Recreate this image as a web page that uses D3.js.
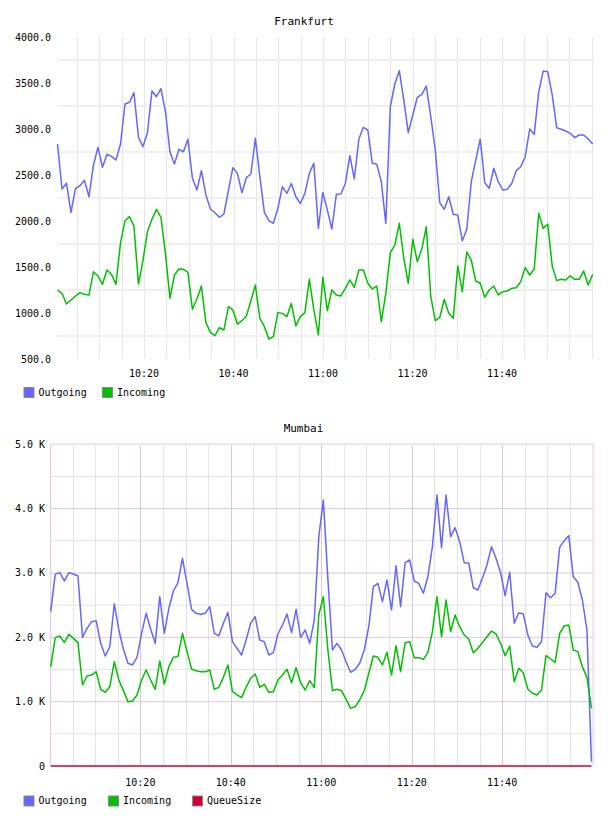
<!DOCTYPE html>
<html><head><meta charset="utf-8">
<script src="https://cdn.jsdelivr.net/npm/d3@7/dist/d3.min.js"></script>
<style>body{margin:0;background:#fff}svg{display:block}text{font-family:"DejaVu Sans Mono",monospace;fill:#000}</style>
</head><body>
<svg id="chart" width="608" height="816"></svg>
<script>
// ---------- data ----------
const timeLabels = ["10:20", "10:40", "11:00", "11:20", "11:40"];
const frankfurtStart = "10:00:40";
const mumbaiStart = "10:00:10";
const stepSeconds = 60.3;

const frankfurtTicks = [500, 1000, 1500, 2000, 2500, 3000, 3500, 4000];
const mumbaiTicks = [0, 1000, 2000, 3000, 4000, 5000];

const frankfurtOutgoing = [2837,2348,2410,2094,2355,2384,2442,2264,2609,2801,
2584,2725,2703,2663,2834,3272,3290,3395,2910,2808,
2960,3413,3351,3438,3188,2753,2620,2779,2753,2888,
2464,2337,2547,2283,2130,2090,2040,2076,2330,2580,
2518,2308,2471,2511,2899,2480,2094,2003,1975,2138,
2373,2301,2408,2264,
2190,2300,2518,2627,1920,2311,2120,1913,2290,2293,
2408,2710,2457,2888,3018,2989,2627,2616,2427,1975,
3242,3489,3634,3315,2960,3152,3345,3377,3467,3134,
2772,2199,2127,2264,2073,2065,1783,1910,2427,2663,
2891,2416,2355,2573,2427,2337,2344,2408,2547,2590,
2699,3000,2942,3403,3630,3623,3370,3014,2997,2978,
2953,2906,2935,2935,2891,2837];

const frankfurtIncoming = [1250,1214,1098,1141,1185,1221,1203,1196,1449,1402,
1312,1467,1420,1312,1757,2003,2047,1946,1315,1569,
1884,2018,2127,2040,1649,1160,1413,1478,1475,1442,
1040,1152,1293,895,790,753,840,815,1069,1033,
880,916,967,1134,1304,942,851,717,743,1004,
996,960,1105,859,
960,1004,1366,1033,761,1388,1025,1250,1196,1185,
1268,1359,1279,1467,1467,1323,1261,1293,905,1214,
1655,1739,1975,1594,1323,1801,1558,1692,1938,1177,
916,953,1149,996,942,1511,1232,1663,1576,1348,
1323,1170,1250,1293,1196,1232,1239,1268,1275,1341,
1493,1413,1478,2083,1920,1967,1511,1352,1366,1359,
1405,1366,1366,1457,1304,1420];

const mumbaiOutgoing = [2400,2979,3010,2875,3005,2984,2953,2000,2140,2243,
2258,1907,1710,1854,2520,2114,1814,1596,1570,1689,
2062,2373,2125,1907,2632,2062,2451,2720,2849,3228,
2839,2435,2373,2358,2373,2476,2062,2025,2218,2389,
1932,1829,1725,1958,2218,2321,1958,1932,1725,1761,
2052,2192,2363,2072,2436,
2000,2114,1907,2269,3564,4134,2900,1803,1907,1803,
1621,1456,1503,1596,1803,2165,2787,2839,2554,2891,
2425,3113,2476,3160,3202,2875,2839,2684,2942,3409,
4212,3393,4212,3564,3704,3486,3160,3150,2771,2735,
2917,3124,3409,3228,3005,2647,3010,2218,2383,2363,
2036,1865,1845,1932,2694,2616,2684,3399,3502,3580,
2942,2855,2580,2114,67];

const mumbaiIncoming = [1544,1995,2020,1922,2046,1984,1917,1259,1399,1414,
1466,1192,1145,1233,1621,1337,1171,999,1010,1104,
1337,1492,1337,1192,1632,1274,1544,1689,1700,2062,
1777,1508,1481,1466,1466,1492,1192,1223,1378,1570,
1155,1104,1062,1223,1363,1430,1223,1270,1145,1155,
1337,1414,1503,1295,1528,
1295,1181,1326,1217,2350,2630,1803,1171,1192,1171,
1036,896,922,1026,1171,1441,1710,1689,1570,1767,
1414,1870,1466,1917,1932,1684,1684,1658,1761,2088,
2632,2010,2580,2088,2347,2165,2036,1974,1761,1829,
1917,2010,2098,2052,1907,1715,1865,1311,1518,1450,
1192,1130,1104,1181,1715,1663,1612,2062,2176,2192,
1803,1777,1544,1378,896];

const mumbaiQueueSize = [0,0,0,0,0,0,0,0,0,0,0,0,0,0,0,0,0,0,0,0,
0,0,0,0,0,0,0,0,0,0,0,0,0,0,0,0,0,0,0,0,
0,0,0,0,0,0,0,0,0,0,0,0,0,0,0,0,0,0,0,0,
0,0,0,0,0,0,0,0,0,0,0,0,0,0,0,0,0,0,0,0,
0,0,0,0,0,0,0,0,0,0,0,0,0,0,0,0,0,0,0,0,
0,0,0,0,0,0,0,0,0,0,0,0,0,0,0,0,0,0,0,0];

const seriesNames = ["Outgoing", "Incoming", "QueueSize"];
const seriesColors = ["#6666ff", "#00c000", "#cc0033"];

// ---------- helpers ----------
const parseT = d3.timeParse("%Y-%m-%d %H:%M:%S");
const parseHM = d3.timeParse("%Y-%m-%d %H:%M");
const day = "2020-01-01 ";
function timesFrom(start, n) {
  const t0 = parseT(day + start);
  return d3.range(n).map(i => new Date(t0.getTime() + i * stepSeconds * 1000));
}
const svg = d3.select("#chart");

function drawChart(cfg) {
  const g = svg.append("g");
  const t0 = parseT(day + cfg.start);
  const x = d3.scaleTime().domain([t0, d3.timeMinute.offset(t0, 120)]).range([cfg.x0, cfg.x1]);
  const y = d3.scaleLinear().domain(cfg.yDomain).range([cfg.y1, cfg.y0]);
  const [xa, xb] = x.domain();

  // vertical grid every 5 minutes
  const vt = d3.timeMinute.every(5).range(xa, xb).filter(t => x(t) > cfg.x0 + 2 && x(t) < cfg.x1 - 2);
  g.selectAll(null).data(vt).enter().append("line")
    .attr("x1", d => Math.round(x(d)) + 0.5).attr("x2", d => Math.round(x(d)) + 0.5)
    .attr("y1", cfg.y0).attr("y2", cfg.y1)
    .attr("stroke", d => cfg.vMajor(d) ? cfg.majorColor : cfg.minorColor)
    .attr("stroke-width", 1);

  // horizontal grid
  g.selectAll(null).data(cfg.hGrid).enter().append("line")
    .attr("x1", cfg.x0).attr("x2", cfg.x1)
    .attr("y1", d => y(d)).attr("y2", d => y(d))
    .attr("stroke", d => cfg.hMajor(d) ? cfg.majorColor : cfg.hMinorColor)
    .attr("stroke-width", cfg.hWidth);

  if (cfg.border) {
    g.append("line").attr("x1", cfg.x0).attr("x2", cfg.x1 + 1).attr("y1", cfg.y0).attr("y2", cfg.y0)
      .attr("stroke", "#f0e2f2").attr("stroke-width", 2);
    g.append("line").attr("x1", cfg.x1).attr("x2", cfg.x1).attr("y1", cfg.y0).attr("y2", cfg.y1)
      .attr("stroke", "#f0e2f2").attr("stroke-width", 2);
    g.append("line").attr("x1", cfg.x0).attr("x2", cfg.x0).attr("y1", cfg.y0).attr("y2", cfg.y1)
      .attr("stroke", cfg.majorColor).attr("stroke-width", 1);
  }

  // y labels
  g.selectAll(null).data(cfg.yTicks).enter().append("text")
    .attr("x", cfg.yLabelX).attr("y", d => y(d)).attr("dy", "0.35em")
    .attr("text-anchor", "end").attr("font-size", 10).text(cfg.yFormat);

  // x labels
  const xt = timeLabels.map(s => parseHM(day + s));
  g.selectAll(null).data(xt).enter().append("text")
    .attr("x", d => x(d)).attr("y", cfg.xLabelY).attr("dy", "0.35em")
    .attr("text-anchor", "middle").attr("font-size", 10).text(d3.timeFormat("%H:%M"));

  // lines
  const times = timesFrom(cfg.start, cfg.series[0].length);
  const line = d3.line().x((d, i) => x(times[i])).y(d => y(d));
  cfg.series.forEach((s, k) => {
    g.append("path").datum(s).attr("d", line).attr("fill", "none")
      .attr("stroke", seriesColors[k]).attr("stroke-width", 1.5).attr("stroke-linejoin", "round");
  });

  // title
  g.append("text").attr("x", cfg.titleX).attr("y", cfg.titleY).attr("dy", "0.35em")
    .attr("text-anchor", "middle").attr("font-size", 11).text(cfg.title);

  // legend
  const lg = g.selectAll(null).data(cfg.series.map((s, k) => k)).enter().append("g")
    .attr("transform", k => `translate(${cfg.legendX[k]},${cfg.legendY})`);
  lg.append("rect").attr("x", 0.5).attr("y", -4.5).attr("width", 10).attr("height", 10)
    .attr("fill", k => seriesColors[k]).attr("stroke", "#8a8a8a").attr("stroke-width", 1);
  lg.append("text").attr("x", 15).attr("y", 0).attr("dy", "0.35em").attr("font-size", 10)
    .text(k => seriesNames[k]);
}

drawChart({
  title: "Frankfurt", titleX: 304, titleY: 21,
  start: frankfurtStart, x0: 57.5, x1: 594.5, y0: 37, y1: 359,
  yDomain: [500, 4000], yTicks: frankfurtTicks, yLabelX: 51,
  yFormat: d3.format(".1f"),
  hGrid: [750, 1250, 1750, 2250, 2750, 3250, 3750], hWidth: 2,
  hMajor: () => false, hMinorColor: "#efefef",
  vMajor: () => false, majorColor: "#e6e6e6", minorColor: "#e6e6e6",
  xLabelY: 373.5, border: false,
  series: [frankfurtOutgoing, frankfurtIncoming],
  legendX: [23.5, 102], legendY: 392
});

drawChart({
  title: "Mumbai", titleX: 303.5, titleY: 428.5,
  start: mumbaiStart, x0: 50.7, x1: 593.3, y0: 444.3, y1: 766,
  yDomain: [0, 5000], yTicks: mumbaiTicks, yLabelX: 45,
  yFormat: d => d === 0 ? "0" : (d / 1000).toFixed(1) + " K",
  hGrid: [500, 1000, 1500, 2000, 2500, 3000, 3500, 4000, 4500], hWidth: 1,
  hMajor: d => d % 1000 === 0, hMinorColor: "#e4e4e4",
  vMajor: d => d.getMinutes() % 20 === 0, majorColor: "#dcc6de", minorColor: "#e4e4e4",
  xLabelY: 782, border: true,
  series: [mumbaiOutgoing, mumbaiIncoming, mumbaiQueueSize],
  legendX: [23.5, 108, 192], legendY: 800.5
});
</script>
</body></html>
